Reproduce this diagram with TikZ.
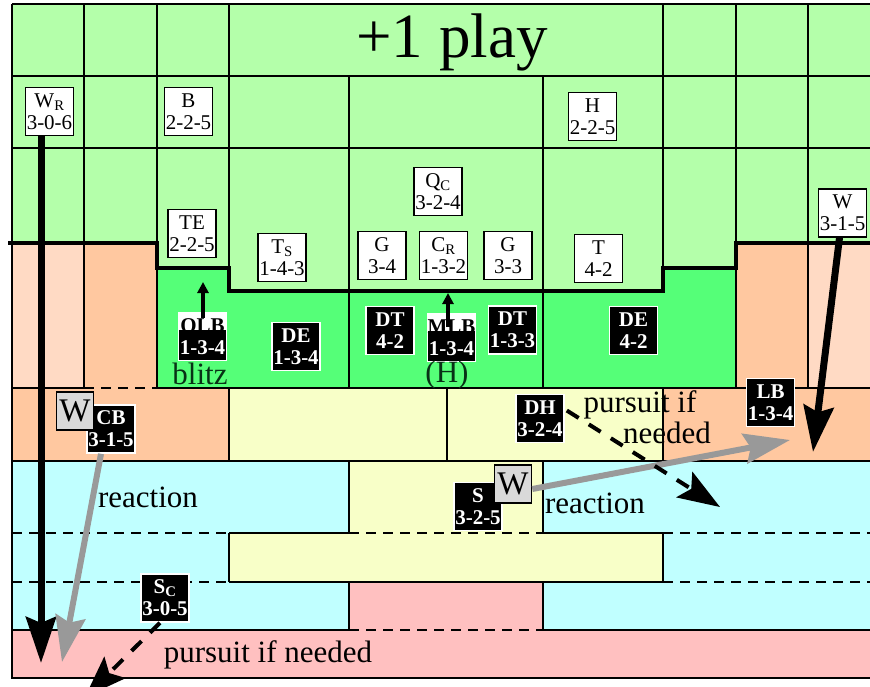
\documentclass[tikz,border=0pt]{standalone}
\usepackage{fontspec}
\setmainfont{Liberation Serif}
\usetikzlibrary{arrows.meta,calc}

\definecolor{fieldgreen}{HTML}{B4FFAA}
\definecolor{boxgreen}{HTML}{55FF78}
\definecolor{flankpeach}{HTML}{FFDAC4}
\definecolor{peach}{HTML}{FFC8A0}
\definecolor{cream}{HTML}{F8FFC8}
\definecolor{deepcyan}{HTML}{C0FFFF}
\definecolor{rose}{HTML}{FFC0C0}
\definecolor{cue}{HTML}{083216}

\begin{document}
\begin{tikzpicture}[x=1pt,y=-1pt,
  grid/.style={line width=1.8pt},
  gridd/.style={line width=1.8pt,dash pattern=on 10pt off 7pt},
  off/.style={draw,fill=white,line width=1.6pt,minimum width=48pt,minimum height=48pt,
    inner sep=0pt,align=center,font=\fontsize{21}{22}\selectfont},
  def/.style={off,draw=white,fill=black,text=white,font=\fontsize{21}{22}\selectfont\bfseries},
  defhalf/.style={def,path picture={\fill[white] (path picture bounding box.north west)
    rectangle ([yshift=-17pt]path picture bounding box.north east);}},
  wbox/.style={draw,fill=black!15,line width=1.6pt,minimum width=37pt,minimum height=38pt,
    inner sep=0pt,font=\fontsize{33}{33}\selectfont},
  lbl/.style={font=\fontsize{31}{31}\selectfont,inner sep=0pt,anchor=base},
  run/.style={-{Stealth[length=46pt,width=30pt,inset=6pt]},line width=7pt},
  read/.style={run,line width=6pt,black!40},
  chase/.style={-{Stealth[length=42pt,width=30pt,inset=8pt]},line width=4pt,dash pattern=on 14pt off 12pt},
  jump/.style={-{Triangle[length=11pt,width=11pt]},line width=4.5pt},
]
\useasboundingbox (0,0) rectangle (870,686);
\clip (0,0) rectangle (870,686);

% ---------- zones ----------
\fill[fieldgreen] (12,4) -- (870,4) -- (870,243) -- (736,243) -- (736,268) -- (663,268) -- (663,291)
  -- (229,291) -- (229,268) -- (157,268) -- (157,243) -- (12,243) -- cycle;
\fill[boxgreen] (157,268) -- (229,268) -- (229,291) -- (663,291) -- (663,268) -- (736,268)
  -- (736,388) -- (157,388) -- cycle;
\fill[flankpeach] (12,243) rectangle (84,388) (808,243) rectangle (870,388);
\fill[peach] (84,243) rectangle (157,388) (736,243) rectangle (808,388)
  (12,388) rectangle (229,461) (663,388) rectangle (870,461);
\fill[cream] (229,388) rectangle (663,461) (349,461) rectangle (543,533) (229,533) rectangle (663,582);
\fill[deepcyan] (12,461) rectangle (349,533) (12,533) rectangle (229,582) (12,582) rectangle (349,630)
  (543,461) rectangle (870,533) (663,533) rectangle (870,582) (543,582) rectangle (870,630);
\fill[rose] (349,582) rectangle (543,630) (12,630) rectangle (870,678);

% ---------- grid ----------
\draw[grid] (12,4) -- (870,4) (12,76) -- (870,76) (12,148) -- (870,148);
\draw[grid] (12,4) -- (12,678) -- (870,678);
\foreach \x/\a/\b in {84/4/388,157/4/388,229/4/268,349/76/388,543/76/388,663/4/268,736/4/388,808/4/388}
  \draw[grid] (\x,\a) -- (\x,\b);
\draw[grid] (12,388) -- (84,388) (157,388) -- (870,388) (12,461) -- (870,461);
\draw[gridd] (84,388) -- (157,388);
\foreach \x in {229,447,663} \draw[grid] (\x,388) -- (\x,461);
\draw[gridd] (12,533) -- (229,533) (349,533) -- (543,533) (663,533) -- (870,533);
\draw[grid] (229,533) -- (349,533) (543,533) -- (663,533);
\draw[gridd] (12,582) -- (229,582) (663,582) -- (870,582);
\draw[grid] (229,582) -- (663,582);
\draw[grid] (12,630) -- (349,630) (543,630) -- (870,630);
\draw[gridd] (349,630) -- (543,630);
\draw[grid] (349,461) -- (349,533) (543,461) -- (543,533) (229,533) -- (229,582)
  (663,533) -- (663,582) (349,582) -- (349,630) (543,582) -- (543,630);

% line of scrimmage
\draw[line width=4pt] (8,243) -- (157,243) -- (157,268) -- (229,268) -- (229,291) -- (663,291)
  -- (663,268) -- (736,268) -- (736,243) -- (870,243);

\node[font=\fontsize{63}{63}\selectfont,inner sep=0pt,anchor=base] (title) at (452,57) {+1 play};

% ---------- offense ----------
\node[off] (WR) at (49.5,111.5) {W\textsubscript{R}\\3-0-6};
\node[off] (B)  at (188.5,111.5) {B\\2-2-5};
\node[off] (H)  at (592.5,116.5) {H\\2-2-5};
\node[off] (QC) at (438,191.5) {Q\textsubscript{C}\\3-2-4};
\node[off] (Wr) at (842.5,213) {W\\3-1-5};
\node[off] (TE) at (192,233.5) {TE\\2-2-5};
\node[off] (TS) at (282,257.5) {T\textsubscript{S}\\1-4-3};
\node[off] (GL) at (382,255.5) {G\\3-4};
\node[off] (CR) at (443.5,255.5) {C\textsubscript{R}\\1-3-2};
\node[off] (GR) at (508,255.5) {G\\3-3};
\node[off] (TR) at (598.5,258.5) {T\\4-2};

% ---------- defense ----------
\node[defhalf] (OLB) at (202.5,336.5) {{\color{black}OLB}\\1-3-4};
\node[def] (DEL) at (296,346.5) {DE\\1-3-4};
\node[def] (DTL) at (390,330.5) {DT\\4-2};
\node[defhalf] (MLB) at (451.5,337.5) {{\color{black}MLB}\\1-3-4};
\node[def] (DTR) at (512.5,330) {DT\\1-3-3};
\node[def] (DER) at (633.5,330.5) {DE\\4-2};
\node[def] (CB)  at (111,429) {CB\\3-1-5};
\node[wbox] (WCB) at (75,411) {W};
\node[def] (DH)  at (540,418.5) {DH\\3-2-4};
\node[def] (LB)  at (770.5,402.5) {LB\\1-3-4};
\node[def] (SS)  at (478,506.5) {S\\3-2-5};
\node[wbox] (WS) at (513,484) {W};
\node[def] (SC)  at (165,598) {S\textsubscript{C}\\3-0-5};

% ---------- labels ----------
\node[lbl,text=cue] (blitz) at (200,384) {blitz};
\node[lbl,text=cue] (hot) at (447,382) {(H)};
\node[lbl] (reactL) at (148,507) {reaction};
\node[lbl] (reactR) at (595,513) {reaction};
\node[lbl] (pursA) at (640,412) {pursuit if};
\node[lbl] (pursB) at (667,443) {needed};
\node[lbl] (pursC) at (268,662) {pursuit if needed};

% ---------- movement ----------
\coordinate (wrEnd) at (41,663);
\coordinate (cbEnd) at (62,662);
\coordinate (wEnd) at (813,452);
\coordinate (wsEnd) at (790,440);
\coordinate (dhEnd) at (720,507);
\coordinate (scEnd) at (85,697);
\coordinate (olbEnd) at (203,282);
\coordinate (mlbEnd) at (448,293);
\draw[run] (wrEnd |- WR.south) -- (wrEnd);
\draw[read] ([xshift=-10pt]CB.south) -- (cbEnd);
\draw[run] ([xshift=-3pt]Wr.south) -- (wEnd);
\draw[read] ([yshift=-5pt]WS.east) -- (wsEnd);
\draw[chase] ($(DH.east)+(2,-8)$) -- (dhEnd);
\draw[chase] ([xshift=-5pt]SC.south) -- (scEnd);
\draw[jump] ($(OLB.north -| olbEnd)+(0,6)$) -- (olbEnd);
\draw[jump] ($(MLB.north -| mlbEnd)+(0,14)$) -- (mlbEnd);
\end{tikzpicture}
\end{document}
